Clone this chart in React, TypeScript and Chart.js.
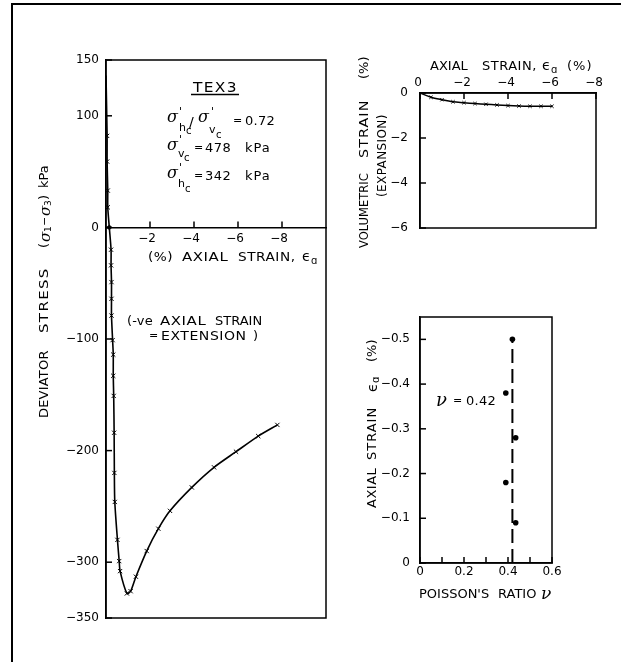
import React, { useEffect, useRef } from 'react';
import { Chart, registerables } from 'chart.js';

Chart.register(...registerables);

const W = 621;
const H = 662;
const FAM = "'DejaVu Sans', sans-serif";
const F = (s: number) => `${s}px ${FAM}`;
const SER = (s: number) => `italic ${s}px 'DejaVu Serif', serif`;

// ---- Main plot: deviator stress vs axial strain (TEX3) ----
const mainStrain = [0, -0.05, -0.05, -0.08, -0.08, -0.15, -0.23, -0.23, -0.25, -0.25, -0.25, -0.30, -0.33, -0.33, -0.35, -0.37, -0.38, -0.40, -0.52, -0.60, -0.64, -0.95, -1.12, -1.36, -1.85, -2.38, -2.91, -3.90, -4.91, -5.91, -6.92, -7.79];
const mainStress = [136, 82, 59, 33, 18, 0, -20, -34, -49, -64, -79, -101, -114, -133, -151, -184, -220, -246, -280, -299, -308, -328, -326, -313, -290, -270, -254, -233, -215, -201, -187, -177];
const mainYTicks = [150, 100, 0, -100, -200, -300, -350];
const mainXTicks = [-2, -4, -6, -8];

// ---- Top right: volumetric strain vs axial strain ----
const volAxial = [0, -0.5, -1, -1.5, -2, -2.5, -3, -3.5, -4, -4.5, -5, -5.5, -6];
const volStrain = [0, -0.19, -0.30, -0.39, -0.43, -0.47, -0.50, -0.53, -0.56, -0.58, -0.59, -0.59, -0.59];
const volXTicks = [0, -2, -4, -6, -8];
const volYTicks = [0, -2, -4, -6];

// ---- Bottom right: axial strain vs Poisson's ratio ----
const nuValues = [0.42, 0.39, 0.435, 0.39, 0.435];
const nuStrain = [-0.5, -0.38, -0.28, -0.18, -0.09];
const nuMean = 0.42;
const nuLineStrain = [0, -0.5];
const nuXTicks = [0, 0.1, 0.2, 0.3, 0.4, 0.5, 0.6];
const nuXTickLabels = ['0', '', '0.2', '', '0.4', '', '0.6'];
const nuYTicks = [0, -0.1, -0.2, -0.3, -0.4, -0.5];

const minus = (v: number | string) => String(v).replace('-', '\u2212');

function put(ctx: CanvasRenderingContext2D, t: string, x: number, y: number, font: string, ls = 0, sx = 1) {
  ctx.save();
  ctx.translate(x, y);
  ctx.scale(sx, 1);
  ctx.font = font;
  (ctx as any).letterSpacing = `${ls}px`;
  ctx.textAlign = 'left';
  ctx.textBaseline = 'alphabetic';
  ctx.fillText(t, 0, 0);
  ctx.restore();
}
function putV(ctx: CanvasRenderingContext2D, t: string, cx: number, yStart: number, font: string, ls = 0, sx = 1) {
  ctx.save();
  ctx.translate(cx, yStart);
  ctx.rotate(-Math.PI / 2);
  ctx.scale(sx, 1);
  ctx.font = font;
  (ctx as any).letterSpacing = `${ls}px`;
  ctx.textAlign = 'left';
  ctx.textBaseline = 'middle';
  ctx.fillText(t, 0, 0);
  ctx.restore();
}
function seg(ctx: CanvasRenderingContext2D, x1: number, y1: number, x2: number, y2: number) {
  ctx.beginPath();
  ctx.moveTo(x1, y1);
  ctx.lineTo(x2, y2);
  ctx.stroke();
}

const axis = (pad: number, ticks: number[], extra: any = {}) => ({
  type: 'linear' as const,
  grid: { display: false, drawTicks: false },
  border: { display: true, color: '#000', width: 1.5 },
  afterBuildTicks: (s: any) => {
    s.ticks = ticks.map((v) => ({ value: v }));
  },
  ...extra,
  ticks: {
    padding: pad,
    color: '#000',
    font: { family: FAM, size: 12 },
    autoSkip: false,
    maxRotation: 0,
    minRotation: 0,
    callback: (v: any) => minus(v),
    ...(extra.ticks || {}),
  },
});

const mainPlugin = {
  id: 'mainDecor',
  afterDraw(chart: any) {
    const ctx: CanvasRenderingContext2D = chart.ctx;
    const { left, right, top, bottom } = chart.chartArea;
    const xs = chart.scales.x;
    const ys = chart.scales.y;
    ctx.save();
    ctx.strokeStyle = '#000';
    ctx.fillStyle = '#000';
    ctx.lineWidth = 1.5;
    ctx.strokeRect(left, top, right - left, bottom - top);
    mainYTicks.forEach((v) => {
      const py = ys.getPixelForValue(v);
      seg(ctx, left, py, left + 6, py);
    });
    const y0 = ys.getPixelForValue(0);
    mainXTicks.forEach((v) => {
      const px = xs.getPixelForValue(v);
      seg(ctx, px, y0, px, y0 - 6);
    });
    // x-axis title
    put(ctx, '(%)', 148, 261, F(13), 0.5, 1.05);
    put(ctx, 'AXIAL', 182, 261, F(13), 0.5, 1.15);
    put(ctx, 'STRAIN,', 238, 261, F(13), 0.5, 1.05);
    put(ctx, '\u03F5', 302, 261, F(14));
    put(ctx, '\u0251', 311, 264, F(10));
    // y-axis title (rotated)
    putV(ctx, 'DEVIATOR', 45, 418, F(13), 0.2, 1);
    putV(ctx, 'STRESS', 45, 333, F(13), 1.2, 1.15);
    putV(ctx, '(', 45, 248, F(13));
    putV(ctx, '\u03C3', 46, 242, SER(15));
    putV(ctx, '1', 49, 232, F(9));
    putV(ctx, '\u2212', 45, 226, F(11));
    putV(ctx, '\u03C3', 46, 216, SER(15));
    putV(ctx, '3', 49, 206, F(9));
    putV(ctx, ')', 45, 200, F(13));
    putV(ctx, 'kPa', 45, 188, F(13), 0, 1);
    // TEX3 block
    put(ctx, 'TEX3', 193, 92, F(14), 1.2, 1.1);
    ctx.lineWidth = 1.4;
    seg(ctx, 191, 94.5, 239, 94.5);
    // line 1
    put(ctx, '\u03C3', 167, 122, SER(16));
    put(ctx, "'", 179, 115, F(11));
    put(ctx, 'h', 179, 131, F(11));
    put(ctx, 'c', 186, 134, F(10));
    put(ctx, '/', 189, 127, F(14));
    put(ctx, '\u03C3', 198, 122, SER(16));
    put(ctx, "'", 211, 115, F(11));
    put(ctx, 'v', 209, 133, F(11));
    put(ctx, 'c', 216, 138, F(10));
    put(ctx, '=', 233, 124, F(11));
    put(ctx, '0.72', 245, 125, F(13), 0.3, 1);
    // line 2
    put(ctx, '\u03C3', 167, 150, SER(16));
    put(ctx, "'", 179, 143, F(11));
    put(ctx, 'v', 178, 157, F(11));
    put(ctx, 'c', 184, 161, F(10));
    put(ctx, '=', 194, 151, F(11));
    put(ctx, '478', 205, 152, F(13), 0.5, 1);
    put(ctx, 'kPa', 245, 152, F(13), 1, 1);
    // line 3
    put(ctx, '\u03C3', 167, 178, SER(16));
    put(ctx, "'", 179, 171, F(11));
    put(ctx, 'h', 178, 187, F(11));
    put(ctx, 'c', 185, 192, F(10));
    put(ctx, '=', 194, 179, F(11));
    put(ctx, '342', 205, 180, F(13), 0.5, 1);
    put(ctx, 'kPa', 245, 180, F(13), 1, 1);
    // extension note
    put(ctx, '(-ve', 127, 325, F(13), 0.2, 1);
    put(ctx, 'AXIAL', 160, 325, F(13), 0.5, 1.15);
    put(ctx, 'STRAIN', 215, 325, F(13), 0, 1);
    put(ctx, '=', 149, 339, F(11));
    put(ctx, 'EXTENSION', 161, 340, F(13), 0.5, 1.08);
    put(ctx, ')', 253, 340, F(13));
    ctx.restore();
  },
};

const volPlugin = {
  id: 'volDecor',
  afterDraw(chart: any) {
    const ctx: CanvasRenderingContext2D = chart.ctx;
    const { left, right, top, bottom } = chart.chartArea;
    const xs = chart.scales.x;
    const ys = chart.scales.y;
    ctx.save();
    ctx.strokeStyle = '#000';
    ctx.fillStyle = '#000';
    ctx.lineWidth = 1.5;
    ctx.strokeRect(left, top, right - left, bottom - top);
    volXTicks.forEach((v) => {
      const px = xs.getPixelForValue(v);
      seg(ctx, px, top, px, top + 6);
    });
    volYTicks.forEach((v) => {
      const py = ys.getPixelForValue(v);
      seg(ctx, left, py, left + 6, py);
    });
    put(ctx, 'AXIAL', 430, 70, F(13), 0, 1);
    put(ctx, 'STRAIN,', 482, 70, F(13), 0.5, 1);
    put(ctx, '\u03F5', 542, 70, F(14));
    put(ctx, '\u0251', 551, 73, F(10));
    put(ctx, '(%)', 567, 70, F(13), 1);
    putV(ctx, 'VOLUMETRIC', 365, 248, F(12), 0, 0.96);
    putV(ctx, 'STRAIN', 365, 158, F(13), 1, 1.1);
    putV(ctx, '(%)', 365, 79, F(13), 0);
    putV(ctx, '(EXPANSION)', 383, 197, F(12), 0.4);
    ctx.restore();
  },
};

const nuPlugin = {
  id: 'nuDecor',
  afterDraw(chart: any) {
    const ctx: CanvasRenderingContext2D = chart.ctx;
    const { left, right, top, bottom } = chart.chartArea;
    const xs = chart.scales.x;
    const ys = chart.scales.y;
    ctx.save();
    ctx.strokeStyle = '#000';
    ctx.fillStyle = '#000';
    ctx.lineWidth = 1.5;
    ctx.strokeRect(left, top, right - left, bottom - top);
    nuXTicks.forEach((v) => {
      const px = xs.getPixelForValue(v);
      seg(ctx, px, bottom, px, bottom - 6);
    });
    nuYTicks.forEach((v) => {
      const py = ys.getPixelForValue(v);
      seg(ctx, left, py, left + 6, py);
    });
    put(ctx, "POISSON'S", 419, 598, F(13), 0, 1);
    put(ctx, 'RATIO', 498, 598, F(13), 0, 1);
    put(ctx, '\u03BD', 541, 599, SER(17));
    putV(ctx, 'AXIAL', 373, 508, F(13), 0.5, 1);
    putV(ctx, 'STRAIN', 373, 460, F(13), 1, 1);
    putV(ctx, '\u03F5', 373, 392, F(14));
    putV(ctx, '\u0251', 376, 383, F(10));
    putV(ctx, '(%)', 373, 362, F(13), 0);
    put(ctx, '\u03BD', 436, 406, SER(18));
    put(ctx, '=', 453, 404, F(11));
    put(ctx, '0.42', 466, 405, F(13), 0.3, 1);
    ctx.restore();
  },
};

export default function App() {
  const r1 = useRef<HTMLCanvasElement>(null);
  const r2 = useRef<HTMLCanvasElement>(null);
  const r3 = useRef<HTMLCanvasElement>(null);

  useEffect(() => {
    document.body.style.margin = '0';
    Chart.defaults.font.family = FAM;
    Chart.defaults.font.size = 12;
    Chart.defaults.color = '#000';

    const common = {
      animation: false as const,
      responsive: false,
      maintainAspectRatio: false,
      events: [] as any[],
      plugins: { legend: { display: false }, tooltip: { enabled: false } },
    };

    const c1 = new Chart(r1.current!, {
      type: 'scatter',
      data: {
        datasets: [
          {
            data: mainStrain.map((x, i) => ({ x, y: mainStress[i] })),
            showLine: true,
            borderColor: '#000',
            borderWidth: 1.6,
            tension: 0.25,
            pointStyle: (c: any) => (mainStress[c.dataIndex] === 0 ? 'circle' : 'crossRot'),
            pointRadius: (c: any) => (c.dataIndex === 0 ? 0 : mainStress[c.dataIndex] === 0 ? 1.8 : 3),
            pointBorderColor: '#000',
            pointBackgroundColor: '#000',
            pointBorderWidth: 1,
          } as any,
        ],
      },
      options: {
        ...common,
        layout: { padding: { left: 0, top: 60, right: 295, bottom: 44 } },
        scales: {
          x: axis(4, mainXTicks, { min: -10, max: 0, reverse: true, position: { y: 0 }, ticks: { labelOffset: -3 } }),
          y: axis(7, mainYTicks, { min: -350, max: 150, afterFit: (s: any) => { s.width = 106; } }),
        },
      } as any,
      plugins: [mainPlugin],
    });

    const c2 = new Chart(r2.current!, {
      type: 'scatter',
      data: {
        datasets: [
          {
            data: volAxial.map((x, i) => ({ x, y: volStrain[i] })),
            showLine: true,
            borderColor: '#000',
            borderWidth: 1.5,
            tension: 0.3,
            pointStyle: 'crossRot',
            pointRadius: (c: any) => (c.dataIndex === 0 ? 0 : 2.3),
            pointBorderColor: '#000',
            pointBorderWidth: 1,
          } as any,
        ],
      },
      options: {
        ...common,
        layout: { padding: { left: 340, top: 0, right: 25, bottom: 434 } },
        scales: {
          x: axis(3, volXTicks, { min: -8, max: 0, reverse: true, position: 'top', afterFit: (s: any) => { s.height = 93; }, ticks: { labelOffset: -2 } }),
          y: axis(12, volYTicks, { min: -6, max: 0, afterFit: (s: any) => { s.width = 80; } }),
        },
      } as any,
      plugins: [volPlugin],
    });

    const c3 = new Chart(r3.current!, {
      type: 'scatter',
      data: {
        datasets: [
          {
            data: nuValues.map((x, i) => ({ x, y: nuStrain[i] })),
            pointStyle: 'circle',
            pointRadius: 2.8,
            pointBackgroundColor: '#000',
            pointBorderColor: '#000',
            pointBorderWidth: 0,
          } as any,
          {
            data: nuLineStrain.map((y) => ({ x: nuMean, y })),
            showLine: true,
            borderColor: '#000',
            borderWidth: 2,
            borderDash: [14, 6],
            pointRadius: 0,
          } as any,
        ],
      },
      options: {
        ...common,
        layout: { padding: { left: 340, top: 317, right: 69, bottom: 79 } },
        scales: {
          x: axis(2, nuXTicks, { min: 0, max: 0.6, position: 'bottom', afterFit: (s: any) => { s.height = 20; }, ticks: { callback: (_v: any, i: number) => nuXTickLabels[i] } }),
          y: axis(10, nuYTicks, { min: -0.55, max: 0, reverse: true, afterFit: (s: any) => { s.width = 80; } }),
        },
      } as any,
      plugins: [nuPlugin],
    });

    return () => {
      c1.destroy();
      c2.destroy();
      c3.destroy();
    };
  }, []);

  const cs: React.CSSProperties = { position: 'absolute', left: 0, top: 0 };
  return (
    <div style={{ position: 'absolute', left: 0, top: 0, width: W, height: H, background: '#fff', overflow: 'hidden' }}>
      <div style={{ position: 'absolute', left: 11, top: 3, width: W, height: H, borderTop: '2px solid #000', borderLeft: '2px solid #000' }} />
      <canvas ref={r1} width={W} height={H} style={cs} />
      <canvas ref={r2} width={W} height={H} style={cs} />
      <canvas ref={r3} width={W} height={H} style={cs} />
    </div>
  );
}
